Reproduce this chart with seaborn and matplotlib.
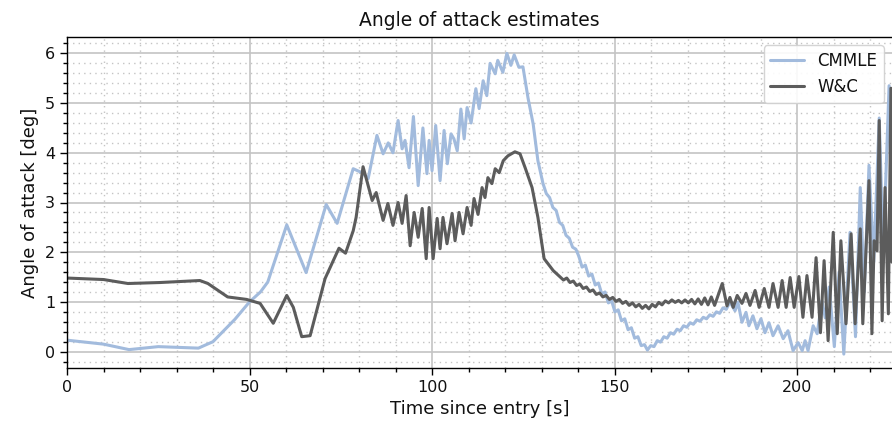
import matplotlib
matplotlib.use("Agg")
import matplotlib.pyplot as plt
from matplotlib.ticker import MultipleLocator
import seaborn as sns
import pandas as pd

# ---- data: (time [s], angle [deg]) ----
cmmle_points = [
    (0, 0.23), (10, 0.15), (17, 0.04), (25, 0.1), (36, 0.07), (40, 0.2), (46, 0.65),
    (50, 1.0), (53, 1.2), (55, 1.4), (60.2, 2.55), (65.5, 1.59), (71, 2.96), (74, 2.58),
    (78.4, 3.68), (80.8, 3.6), (82.5, 3.48), (84.9, 4.35), (86.6, 3.98), (88, 4.2),
    (89.3, 4.0), (90.7, 4.65), (91.8, 4.08), (92.6, 4.25), (93.7, 3.7), (94.9, 4.73),
    (96.2, 3.34), (97.5, 4.5), (98.6, 3.58), (99.2, 4.25), (100, 3.64), (101, 4.55),
    (102.2, 3.44), (103.3, 4.45), (104.2, 3.78), (105.2, 4.38), (106, 4.28), (106.9, 4.04),
    (107.9, 4.88), (108.8, 4.28), (109.6, 4.91), (110.7, 4.6), (112, 5.29), (112.9, 4.89),
    (114, 5.45), (115, 5.15), (115.9, 5.8), (117.3, 5.59), (118, 5.86), (119.4, 5.62),
    (120.5, 6.0), (121.6, 5.76), (122.5, 5.97), (123.8, 5.72), (124.9, 5.73), (126.3, 5.1),
    (127.7, 4.58), (129, 3.84), (130.4, 3.38), (131.3, 3.18), (132.2, 3.1), (133.1, 2.9),
    (134.0, 2.84), (134.9, 2.6), (135.8, 2.54), (136.7, 2.34), (137.6, 2.28), (138.5, 2.1),
    (139.4, 2.06), (140.2, 1.92), (141.1, 1.70), (142.0, 1.74), (142.9, 1.52), (143.8, 1.56),
    (144.7, 1.34), (145.6, 1.38), (146.5, 1.16), (147.4, 1.20), (148.3, 0.98), (149.2, 1.02),
    (150.1, 0.80), (151.0, 0.84), (151.9, 0.62), (152.8, 0.66), (153.7, 0.44), (154.6, 0.48),
    (155.5, 0.27), (156.4, 0.30), (157.3, 0.12), (158.2, 0.14), (159.0, 0.03), (159.9, 0.12),
    (160.8, 0.10), (161.7, 0.22), (162.6, 0.19), (163.5, 0.3), (164.4, 0.27), (165.3, 0.38),
    (166.2, 0.35), (167.1, 0.45), (168.0, 0.42), (168.9, 0.52), (169.8, 0.49), (170.7, 0.58),
    (171.6, 0.55), (172.5, 0.64), (173.4, 0.61), (174.3, 0.69), (175.2, 0.66), (176.1, 0.74),
    (177.0, 0.71), (177.9, 0.8), (178.8, 0.77), (179.7, 0.88), (180.6, 0.85), (181.6, 1.0),
    (183.0, 0.82), (183.8, 0.99), (184.9, 0.59), (186.0, 0.79), (186.8, 0.52), (187.9, 0.72),
    (189.0, 0.46), (190.1, 0.66), (191.2, 0.38), (192.3, 0.58), (193.4, 0.32), (194.8, 0.52),
    (196.2, 0.26), (197.5, 0.42), (198.9, 0.02), (200.3, 0.18), (201.4, 0.02), (202.2, 0.22),
    (203.0, 0.02), (204.4, 0.52), (205.5, 0.36), (206.8, 1.02), (207.7, 0.68), (208.8, 1.3),
    (210.2, 0.1), (211.5, 1.6), (212.8, -0.05), (214.5, 2.4), (216.0, 0.3), (217.3, 3.3),
    (218.4, 1.2), (219.7, 3.75), (221.0, 1.8), (222.5, 4.7), (223.6, 2.0), (225.2, 5.35),
    (226.0, 2.3),
]

wc_points = [
    (0, 1.48), (10, 1.45), (16.7, 1.37), (25.5, 1.39), (36.4, 1.43), (38.6, 1.37), (44, 1.1),
    (49.2, 1.05), (52.9, 0.97), (56.5, 0.57), (60.2, 1.13), (62, 0.89), (64.3, 0.3),
    (66.6, 0.32), (70.7, 1.47), (74.5, 2.08), (76.3, 1.98), (78.4, 2.43), (79.2, 2.7),
    (81.1, 3.72), (83.6, 3.04), (84.7, 3.2), (86.6, 2.64), (87.9, 2.98), (89.3, 2.54),
    (90.7, 3.0), (91.8, 2.58), (92.9, 3.14), (94.0, 2.13), (95.1, 2.8), (96.2, 2.3),
    (97.3, 2.88), (98.4, 1.87), (99.2, 2.9), (100.3, 1.87), (101.4, 2.68), (102.2, 2.07),
    (103.0, 2.7), (104.1, 2.17), (105.5, 2.78), (106.3, 2.23), (107.4, 2.8), (108.5, 2.37),
    (109.6, 2.9), (110.7, 2.54), (111.5, 3.08), (112.6, 2.76), (113.7, 3.3), (114.5, 3.1),
    (115.3, 3.5), (116.4, 3.38), (117.3, 3.68), (118.4, 3.6), (119.5, 3.84), (120.8, 3.94),
    (122.7, 4.02), (124.1, 3.98), (125.5, 3.7), (127.4, 3.3), (129.0, 2.7), (130.7, 1.87),
    (133.2, 1.63), (135.1, 1.5), (136.0, 1.44), (136.9, 1.48), (137.8, 1.39), (138.7, 1.42),
    (139.6, 1.33), (140.5, 1.36), (141.4, 1.27), (142.3, 1.3), (143.2, 1.21), (144.1, 1.24),
    (145.0, 1.15), (145.9, 1.18), (146.8, 1.1), (147.7, 1.13), (148.6, 1.05), (149.5, 1.09),
    (150.4, 1.01), (151.3, 1.05), (152.2, 0.97), (153.1, 1.01), (154.0, 0.93), (154.9, 0.98),
    (155.8, 0.9), (156.7, 0.95), (157.6, 0.87), (158.5, 0.93), (159.4, 0.86), (160.3, 0.95),
    (161.2, 0.9), (162.1, 0.99), (163.0, 0.94), (163.9, 1.02), (164.8, 0.98), (165.7, 1.04),
    (166.6, 0.99), (167.5, 1.03), (168.4, 0.98), (169.3, 1.04), (170.2, 0.98), (171.1, 1.05),
    (172.0, 0.96), (172.9, 1.06), (173.8, 0.95), (174.7, 1.08), (175.6, 0.94), (176.5, 1.1),
    (177.4, 0.93), (178.3, 1.12), (179.5, 1.37), (180.8, 0.92), (181.6, 1.09), (182.5, 0.89),
    (183.6, 1.13), (184.9, 0.97), (186.0, 1.17), (187.1, 0.93), (188.5, 1.23), (189.6, 0.89),
    (191.0, 1.27), (192.3, 0.89), (193.4, 1.37), (194.8, 0.89), (195.9, 1.43), (197.0, 0.89),
    (198.1, 1.49), (199.2, 0.89), (200.5, 1.51), (201.6, 0.69), (202.7, 1.53), (204.1, 0.69),
    (205.2, 1.89), (206.4, 0.38), (207.4, 1.83), (208.5, 0.22), (209.9, 2.4), (211.0, 0.36),
    (212.0, 2.23), (213.4, 0.56), (214.8, 2.37), (215.9, 0.56), (217.3, 2.47), (218.0, 0.56),
    (219.7, 3.44), (220.5, 0.36), (221.1, 2.23), (221.9, 2.03), (222.5, 4.65), (223.3, 0.62),
    (224.1, 3.3), (225.0, 0.76), (225.7, 5.3), (226.0, 1.8),
]

series_names = ["CMMLE", "W&C"]
colors = ["#a2bbdd", "#5c5c5c"]

frames = []
for name, pts in zip(series_names, [cmmle_points, wc_points]):
    f = pd.DataFrame(pts, columns=["t", "v"])
    f["series"] = name
    frames.append(f)
df = pd.concat(frames, ignore_index=True)

sns.set_style("whitegrid")
plt.rcParams["font.family"] = ["DejaVu Sans"]

fig = plt.figure(figsize=(8.92, 4.32), dpi=100)
ax = fig.add_axes([67 / 892, 64 / 432, 825 / 892, 331 / 432])

sns.lineplot(data=df, x="t", y="v", hue="series", palette=colors, sort=False,
             estimator=None, linewidth=2.2, ax=ax)

ax.set_xlim(0, 226)
ax.set_ylim(-0.33, 6.33)
ax.xaxis.set_major_locator(MultipleLocator(50))
ax.xaxis.set_minor_locator(MultipleLocator(10))
ax.yaxis.set_major_locator(MultipleLocator(1))
ax.yaxis.set_minor_locator(MultipleLocator(0.2))

ax.grid(which="major", color="#c4c4c4", linestyle="-", linewidth=1.2)
ax.grid(which="minor", color="#c4c4c4", linestyle=(0, (1, 3)), linewidth=1.0)
ax.set_axisbelow(True)

for s in ["left", "bottom", "top"]:
    ax.spines[s].set_visible(True)
    ax.spines[s].set_color("black")
    ax.spines[s].set_linewidth(1.0)
ax.spines["right"].set_visible(False)

ax.tick_params(which="major", direction="out", length=5, width=1, color="black",
               labelsize=11.5, labelcolor="#111111", bottom=True, left=True)
ax.tick_params(which="minor", direction="out", length=3, width=1, color="black",
               bottom=True, left=True)

ax.set_xlabel("Time since entry [s]", fontsize=13, color="#111111")
ax.set_ylabel("Angle of attack [deg]", fontsize=13, color="#111111")
ax.set_title("Angle of attack estimates", fontsize=13.5, pad=8, color="#111111")

leg = ax.legend(loc="upper right", fontsize=12, frameon=True, framealpha=0.9,
                edgecolor="#d0d0d0", title=None, borderaxespad=0.5)
for text in leg.get_texts():
    text.set_color("#111111")
for line in leg.get_lines():
    line.set_linewidth(2.2)

fig.savefig("out.png", dpi=100)
